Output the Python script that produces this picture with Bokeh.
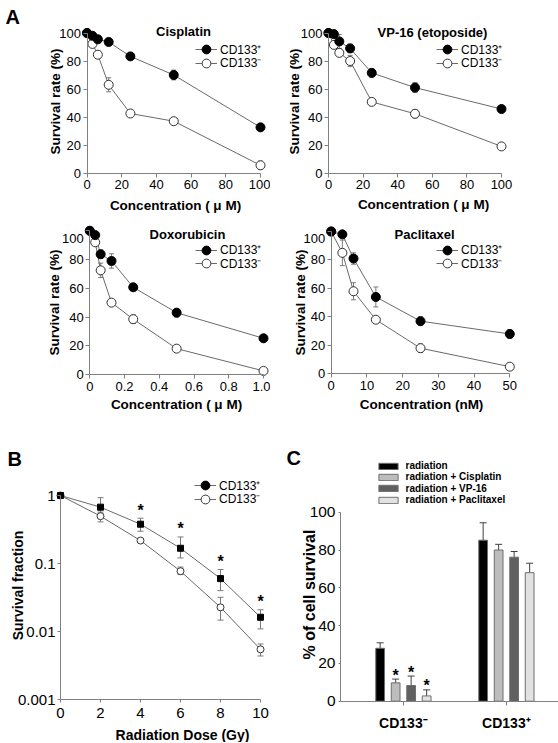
from math import log10
from bokeh.plotting import figure
from bokeh.layouts import column, row
from bokeh.models import (Range1d, ColumnDataSource, Whisker, TeeHead, Legend, LegendItem,
                          Label, FixedTicker, CustomJSTickFormatter)
from bokeh.core.properties import value
from bokeh.embed import file_html
from bokeh.resources import INLINE

# ---------------- data ----------------
conc_um = [0, 3.125, 6.25, 12.5, 25, 50, 100]
cis_pos = [100, 98, 95.5, 93.6, 83.3, 70, 32.6]
cis_pos_err = [0.5, 1, 1.5, 2.5, 1, 3.5, 1.5]
cis_neg = [100, 92.2, 84.5, 63, 42.5, 37, 5.5]
cis_neg_err = [0.5, 2, 2.5, 5, 1, 1.5, 3]

vp_pos = [100, 99.2, 94, 89, 71.5, 61, 45.7]
vp_pos_err = [0.5, 1.5, 5, 3, 3, 3.5, 1]
vp_neg = [100, 91.5, 85.8, 80, 50.8, 42.3, 19]
vp_neg_err = [0.5, 1.5, 2, 4, 1.5, 3, 1]

dox_conc = [0, 0.03125, 0.0625, 0.125, 0.25, 0.5, 1.0]
dox_pos = [100, 97, 83.7, 79, 60.7, 43, 25.2]
dox_pos_err = [0.5, 1, 3, 5, 1.5, 3, 1]
dox_neg = [100, 92, 72.5, 50, 38.5, 18, 2.5]
dox_neg_err = [0.5, 1.5, 5, 2, 3, 1, 1]

pac_conc = [0, 3.125, 6.25, 12.5, 25, 50]
pac_pos = [100, 98, 81, 54, 37, 28]
pac_pos_err = [0.5, 1, 4, 7, 3, 3]
pac_neg = [100, 85, 58, 38, 18, 5]
pac_neg_err = [0.5, 9, 6, 1, 3, 1]

dose = [0, 2, 4, 6, 8, 10]
rad_pos = [1, 0.674, 0.379, 0.168, 0.0602, 0.0163]
rad_pos_hi = [1, 0.93, 0.464, 0.246, 0.0818, 0.021]
rad_pos_lo = [1, 0.5, 0.299, 0.121, 0.0401, 0.011]
rad_neg = [1, 0.497, 0.218, 0.0773, 0.0228, 0.0055]
rad_neg_hi = [1, 0.57, 0.218, 0.089, 0.032, 0.0066]
rad_neg_lo = [1, 0.41, 0.218, 0.069, 0.0148, 0.0044]
sig_idx = [2, 3, 4, 5]

groups = ["CD133\u207b", "CD133\u207a"]
treatments = ["radiation", "radiation + Cisplatin", "radiation + VP-16", "radiation + Paclitaxel"]
surv_neg = [28, 9.7, 8.3, 2.8]
surv_neg_err = [2.9, 2, 5, 3.2]
surv_pos = [85.2, 80, 76.2, 68]
surv_pos_err = [9.2, 3, 3, 5]
sig_neg = [False, True, True, True]
bar_colors = ["#000000", "#bdbdbd", "#606060", "#e2e2e2"]

POS = "CD133\u207a"
NEG = "CD133\u207b"

FONT = "Liberation Sans"
AXC = "#808080"
LINEC = "#6a6a6a"
ERRC = "#7a7a7a"
NAN = float("nan")


class Map:
    """Maps page pixels of a panel canvas to its data coordinates."""

    def __init__(self, box, xcal, ycal, ylog=False):
        self.cx0, self.cy0, self.cx1, self.cy1 = box
        (px0, v0), (px1, v1) = xcal
        self.bx = (px1 - px0) / (v1 - v0)
        self.ax = px0 - self.bx * v0
        (py0, w0), (py1, w1) = ycal
        self.ylog = ylog
        if ylog:
            w0, w1 = log10(w0), log10(w1)
        self.by = (py1 - py0) / (w1 - w0)
        self.ay = py0 - self.by * w0

    def x(self, px):
        return (px - self.ax) / self.bx

    def y(self, py):
        v = (py - self.ay) / self.by
        return 10 ** v if self.ylog else v

    def xr(self):
        return Range1d(self.x(self.cx0), self.x(self.cx1))

    def yr(self):
        return Range1d(self.y(self.cy1), self.y(self.cy0))

    @property
    def w(self):
        return self.cx1 - self.cx0

    @property
    def h(self):
        return self.cy1 - self.cy0


def base_fig(m, **kw):
    p = figure(width=m.w, height=m.h, x_range=m.xr(), y_range=m.yr(), output_backend="svg",
               toolbar_location=None, min_border=0, min_border_left=0, min_border_right=0,
               min_border_top=0, min_border_bottom=0, **kw)
    p.outline_line_color = None
    p.xgrid.visible = False
    p.ygrid.visible = False
    p.background_fill_color = "white"
    p.border_fill_color = "white"
    for ax in p.axis:
        ax.axis_line_color = AXC
        ax.major_tick_line_color = AXC
        ax.minor_tick_line_color = None
        ax.major_tick_in = 0
        ax.major_tick_out = 4
        ax.major_label_text_font = FONT
        ax.major_label_text_color = "black"
        ax.major_label_standoff = 2
    return p


def text_at(p, m, px, py, txt, size, bold=True, align="center", baseline="middle", angle=0):
    p.add_layout(Label(x=m.x(px), y=m.y(py), text=txt, text_font=FONT, text_font_size=size,
                       text_font_style="bold" if bold else "normal", text_align=align,
                       text_baseline=baseline, angle=angle, angle_units="deg",
                       text_color="black"))


def single_legend(p, m, label, renderers, px, pyc, size="12px", style="normal",
                  gw=22, gh=22, standoff=3):
    h = gh
    lg = Legend(items=[LegendItem(label=label, renderers=renderers)],
                location=(px - m.cx0, (m.cy1 - pyc) - h / 2.0))
    lg.border_line_color = None
    lg.background_fill_alpha = 0
    lg.padding = 0
    lg.margin = 0
    lg.spacing = 0
    lg.label_text_font = FONT
    lg.label_text_font_size = size
    lg.label_text_font_style = style
    lg.label_text_color = "black"
    lg.glyph_width = gw
    lg.glyph_height = gh
    lg.label_height = gh
    lg.label_standoff = standoff
    p.add_layout(lg, "center")


def drug_panel(m, xmax, xticks, conc, pos, pos_err, neg, neg_err, title, tpos,
               leg, xlabel, xlab_pos, ylab_pos, fake100=None):
    p = base_fig(m)
    p.xaxis.ticker = FixedTicker(ticks=xticks)
    p.yaxis.ticker = FixedTicker(ticks=[0, 20, 40, 60, 80, 100])
    p.xaxis.bounds = (0, xmax)
    p.yaxis.bounds = (0, 100)
    p.yaxis.fixed_location = 0
    p.xaxis.fixed_location = 0
    for ax in p.axis:
        ax.major_label_text_font_size = "13px"
    p.xaxis.major_label_standoff = 3
    if fake100 is not None:
        p.yaxis.major_label_overrides = {100: ""}
        text_at(p, m, fake100[0], fake100[1], "100", "13px", bold=False, align="right")
    sp = ColumnDataSource(dict(x=conc, y=pos, lo=[v - e for v, e in zip(pos, pos_err)],
                               hi=[v + e for v, e in zip(pos, pos_err)]))
    sn = ColumnDataSource(dict(x=conc, y=neg, lo=[v - e for v, e in zip(neg, neg_err)],
                               hi=[v + e for v, e in zip(neg, neg_err)]))
    for s in (sn, sp):
        p.add_layout(Whisker(source=s, base="x", upper="hi", lower="lo", line_color=ERRC,
                             upper_head=TeeHead(size=5, line_color=ERRC),
                             lower_head=TeeHead(size=5, line_color=ERRC)))
    ln = p.line("x", "y", source=sn, line_color=LINEC, line_width=1)
    lp = p.line("x", "y", source=sp, line_color=LINEC, line_width=1)
    mn = p.scatter("x", "y", source=sn, marker="circle", size=9, fill_color="white",
                   line_color="#333333", line_width=1)
    mp = p.scatter("x", "y", source=sp, marker="circle", size=9, fill_color="black",
                   line_color="black")
    text_at(p, m, tpos[0], tpos[1], title, "13px")
    text_at(p, m, xlab_pos[0], xlab_pos[1], xlabel, "13.5px")
    text_at(p, m, ylab_pos[0], ylab_pos[1], "Survival rate (%)", "13.5px", angle=90)
    single_legend(p, m, POS, [lp, mp], leg[0], leg[1])
    single_legend(p, m, NEG, [ln, mn], leg[0], leg[2])
    return p


MU = "Concentration ( \u03bc M)"

m1 = Map((0, 0, 270, 214), ((86.5, 0), (260, 100)), ((172.5, 0), (32.5, 100)))
p1 = drug_panel(m1, 100, [0, 20, 40, 60, 80, 100], conc_um, cis_pos, cis_pos_err,
                cis_neg, cis_neg_err, "Cisplatin", (183, 31), (195, 49, 62.5), MU,
                (175, 205), (55, 101))
text_at(p1, m1, 5, 5, "A", "20px", align="left", baseline="top")

m2 = Map((270, 0, 558, 214), ((328, 0), (501, 100)), ((172.5, 0), (32.5, 100)))
p2 = drug_panel(m2, 100, [0, 20, 40, 60, 80, 100], conc_um, vp_pos, vp_pos_err,
                vp_neg, vp_neg_err, "VP-16 (etoposide)", (432, 32), (436, 49.3, 62.8), MU,
                (423, 204), (294, 101))

m3 = Map((0, 214, 270, 420), ((89.3, 0), (263, 1.0)), ((374, 0), (230.3, 100)))
p3 = drug_panel(m3, 1.0, [0, 0.2, 0.4, 0.6, 0.8, 1.0], dox_conc, dox_pos, dox_pos_err,
                dox_neg, dox_neg_err, "Doxorubicin", (187, 234), (195, 249.5, 263), MU,
                (176, 404), (54, 302), fake100=(83.3, 238))
p3.xaxis.major_label_overrides = {0: "0", 1: "1.0"}

m4 = Map((270, 214, 558, 420), ((330.7, 0), (509.3, 50)), ((373.3, 0), (231, 100)))
p4 = drug_panel(m4, 50, [0, 10, 20, 30, 40, 50], pac_conc, pac_pos, pac_pos_err,
                pac_neg, pac_neg_err, "Paclitaxel", (424, 234), (436, 249.5, 263),
                "Concentration (nM)", (421, 404), (300, 302), fake100=(324.7, 238))

# ---------------- panel B ----------------
mB = Map((0, 420, 280, 742), ((60, 0), (260, 10)), ((495, 1), (699.3, 0.001)), ylog=True)
pB = base_fig(mB, y_axis_type="log")
pB.yaxis.ticker = FixedTicker(ticks=[0.001, 0.01, 0.1, 1])
pB.yaxis.formatter = CustomJSTickFormatter(code="return tick.toString();")
pB.yaxis.bounds = (0.001, 1)
pB.yaxis.fixed_location = 0
pB.xaxis.fixed_location = 0.001
pB.xaxis.ticker = FixedTicker(ticks=[0, 2, 4, 6, 8, 10])
pB.xaxis.bounds = (0, 10)
for ax in pB.axis:
    ax.major_label_text_font_size = "15px"
    ax.major_tick_out = 3
pB.xaxis.major_label_standoff = 5

sBp = ColumnDataSource(dict(x=dose, y=rad_pos, lo=rad_pos_lo, hi=rad_pos_hi))
sBn = ColumnDataSource(dict(x=dose, y=rad_neg, lo=rad_neg_lo, hi=rad_neg_hi))
for s in (sBn, sBp):
    pB.add_layout(Whisker(source=s, base="x", upper="hi", lower="lo", line_color=ERRC,
                          upper_head=TeeHead(size=6, line_color=ERRC),
                          lower_head=TeeHead(size=6, line_color=ERRC)))
lBn = pB.line("x", "y", source=sBn, line_color=LINEC, line_width=1)
lBp = pB.line("x", "y", source=sBp, line_color=LINEC, line_width=1)
pB.scatter("x", "y", source=sBn, marker="circle", size=7, fill_color="white",
           line_color="#333333")
pB.scatter("x", "y", source=sBp, marker="square", size=6, fill_color="black",
           line_color="black")
# legend-only proxies (no visible point)
kp = pB.scatter(x=[NAN], y=[NAN], marker="circle", size=9, fill_color="black",
                line_color="black")
kn = pB.scatter(x=[NAN], y=[NAN], marker="circle", size=9, fill_color="white",
                line_color="#333333")
pB.text(x=[dose[i] for i in sig_idx], y=[rad_pos_hi[i] for i in sig_idx],
        text=["*"] * len(sig_idx), text_font=value(FONT), text_font_size="16px",
        text_font_style="bold", text_align="center", text_baseline="alphabetic", y_offset=-8)
single_legend(pB, mB, POS, [lBp, kp], 194, 485)
single_legend(pB, mB, NEG, [lBn, kn], 194, 498.5)
text_at(pB, mB, 7, 447, "B", "20px", align="left", baseline="top")
text_at(pB, mB, 182, 734, "Radiation Dose (Gy)", "14px")
text_at(pB, mB, 17.5, 585, "Survival fraction", "14px", angle=90)

# ---------------- panel C ----------------
mC = Map((280, 420, 558, 742), ((402.9, 1), (505.9, 2)), ((700.7, 0), (511.7, 100)))
pC = base_fig(mC)
x_axis_start = mC.x(340)
pC.yaxis.ticker = FixedTicker(ticks=[0, 20, 40, 60, 80, 100])
pC.yaxis.bounds = (0, 100)
pC.yaxis.fixed_location = x_axis_start
pC.xaxis.fixed_location = 0
pC.xaxis.bounds = (x_axis_start, mC.x(558))
pC.xaxis.ticker = FixedTicker(ticks=[1, 2])
pC.xaxis.major_label_overrides = {1: groups[0], 2: groups[1]}
pC.yaxis.major_label_text_font_size = "15.5px"
pC.yaxis.major_tick_out = 2
pC.yaxis.major_label_standoff = 3
pC.xaxis.major_label_text_font_size = "14px"
pC.xaxis.major_label_text_font_style = "bold"
pC.xaxis.major_tick_out = 4
pC.xaxis.major_label_standoff = 10

offsets = [-1.5, -0.5, 0.5, 1.5]
legend_rows = [467, 478.4, 489.8, 501.2]
for i, t in enumerate(treatments):
    xs = [1 + offsets[i] * 0.1505, 2 + offsets[i] * 0.1505]
    tops = [surv_neg[i], surv_pos[i]]
    ups = [surv_neg[i] + surv_neg_err[i], surv_pos[i] + surv_pos_err[i]]
    s = ColumnDataSource(dict(x=xs, top=tops, up=ups))
    pC.add_layout(Whisker(source=s, base="x", upper="up", lower="top", line_color="#404040",
                          upper_head=TeeHead(size=7, line_color="#404040"), lower_head=None))
    r = pC.vbar(x="x", top="top", bottom=0, width=0.085, source=s, fill_color=bar_colors[i],
                line_color="#6e6e6e", line_width=1)
    single_legend(pC, mC, t, [r], 375.5, legend_rows[i], size="10px", style="bold",
                  gw=24, gh=8, standoff=6)
    if sig_neg[i]:
        pC.text(x=[xs[0]], y=[ups[0]], text=["*"], text_font=value(FONT),
                text_font_size="16px", text_font_style="bold", text_align="center",
                text_baseline="alphabetic", y_offset=-4)
text_at(pC, mC, 286, 446, "C", "20px", align="left", baseline="top")
text_at(pC, mC, 309, 594, "% of cell survival", "16px", angle=90)

layout = column(row(p1, p2), row(p3, p4), row(pB, pC))
open("out.html", "w").write(file_html(layout, INLINE))
